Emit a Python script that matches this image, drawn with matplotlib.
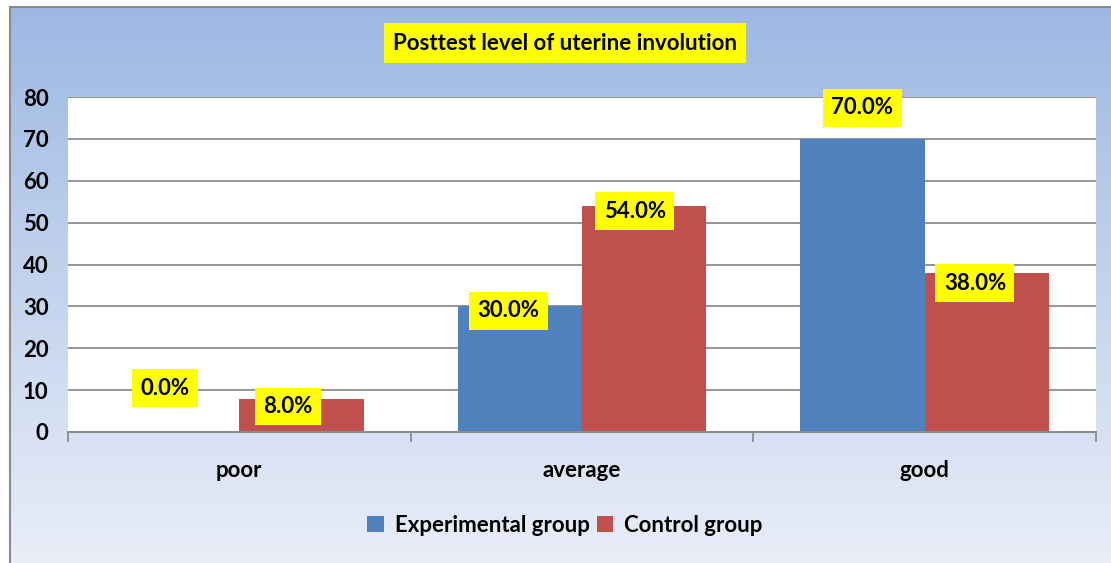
import matplotlib
matplotlib.use("Agg")
import matplotlib.pyplot as plt
import numpy as np

plt.rcParams['font.family'] = ['Lato', 'DejaVu Sans']

categories = ["poor", "average", "good"]
series_names = ["Experimental group", "Control group"]
experimental = [0.0, 30.0, 70.0]
control = [8.0, 54.0, 38.0]
yticks = [0, 10, 20, 30, 40, 50, 60, 70, 80]
title = "Posttest level of uterine involution"

# label placement (offsets in data units relative to bar centre; y position of label centre)
exp_label_dx = [-0.035, -0.033, 0.0]
exp_label_y = [10.5, 28.9, 77.4]
ctl_label_dx = [-0.04, -0.027, -0.035]
ctl_label_y = [6.1, 52.7, 35.5]

FS = 16
W, H = 1111, 563
fig = plt.figure(figsize=(W / 100, H / 100), dpi=100)
fig.patch.set_facecolor("white")

# gradient chart background
bg = fig.add_axes([10 / W, 0, 1 - 10 / W, (H - 7) / H], zorder=0)
top = np.array([157, 184, 227]) / 255
bot = np.array([233, 238, 248]) / 255
t = np.linspace(0, 1, 256)[:, None]
grad = top[None, :] * (1 - t) + bot[None, :] * t
bg.imshow(grad[:, None, :].repeat(2, axis=1), aspect="auto", extent=[0, 1, 0, 1], origin="upper")
bg.set_xlim(0, 1)
bg.set_ylim(0, 1)
for s in ["top", "left"]:
    bg.spines[s].set_color("#8a8a8a")
    bg.spines[s].set_linewidth(1.5)
bg.spines["bottom"].set_visible(False)
bg.spines["right"].set_visible(False)
bg.set_xticks([])
bg.set_yticks([])

ax = fig.add_axes([68 / W, (H - 432) / H, (1096 - 68) / W, (432 - 97) / H], zorder=1)
ax.set_facecolor("white")

x = np.arange(len(categories))
bw = 0.363
blue = "#4F81BD"
red = "#C0504D"
b1 = ax.bar(x - bw / 2, experimental, bw, color=blue, label=series_names[0], zorder=3)
b2 = ax.bar(x + bw / 2, control, bw, color=red, label=series_names[1], zorder=3)

ax.set_xlim(-0.5, len(categories) - 0.5)
ax.set_ylim(0, 80)
ax.set_yticks(yticks)
ax.set_yticklabels([str(v) for v in yticks], fontsize=FS, fontweight="bold")
ax.yaxis.grid(True, color="#8c8c8c", linewidth=1.3, zorder=0)
ax.set_axisbelow(True)
ax.tick_params(axis="y", length=0, pad=14)

ax.set_xticks(x)
ax.set_xticklabels(categories, fontsize=FS, fontweight="bold")
ax.tick_params(axis="x", length=0, pad=20)
ax.set_xticks(np.arange(-0.5, len(categories), 1.0), minor=True)
ax.tick_params(axis="x", which="minor", length=7, width=1.3, color="#8c8c8c", direction="out")

for s in ["top", "left", "right"]:
    ax.spines[s].set_visible(False)
ax.spines["bottom"].set_color("#8c8c8c")
ax.spines["bottom"].set_linewidth(1.5)
ax.spines["bottom"].set_zorder(4)

box = dict(boxstyle="square,pad=0.38", facecolor="#FFFF00", edgecolor="none")
for i in range(len(categories)):
    ax.text(x[i] - bw / 2 + exp_label_dx[i], exp_label_y[i], f"{experimental[i]:.1f}%",
            ha="center", va="center", fontsize=FS, fontweight="bold", bbox=box, zorder=5)
    ax.text(x[i] + bw / 2 + ctl_label_dx[i], ctl_label_y[i], f"{control[i]:.1f}%",
            ha="center", va="center", fontsize=FS, fontweight="bold", bbox=box, zorder=5)

fig.text(565 / W, 1 - 43 / H, title, ha="center", va="center", fontsize=FS, fontweight="bold",
         bbox=dict(boxstyle="square,pad=0.42", facecolor="#FFFF00", edgecolor="none"), zorder=5)

leg = fig.legend(handles=[b1, b2], labels=series_names, loc="center", bbox_to_anchor=(565 / W, 1 - 525 / H),
                 ncol=2, frameon=False, handlelength=0.75, handleheight=0.75,
                 handletextpad=0.5, columnspacing=0.3, prop={"weight": "bold", "size": FS})

fig.savefig("out.png", dpi=100)
